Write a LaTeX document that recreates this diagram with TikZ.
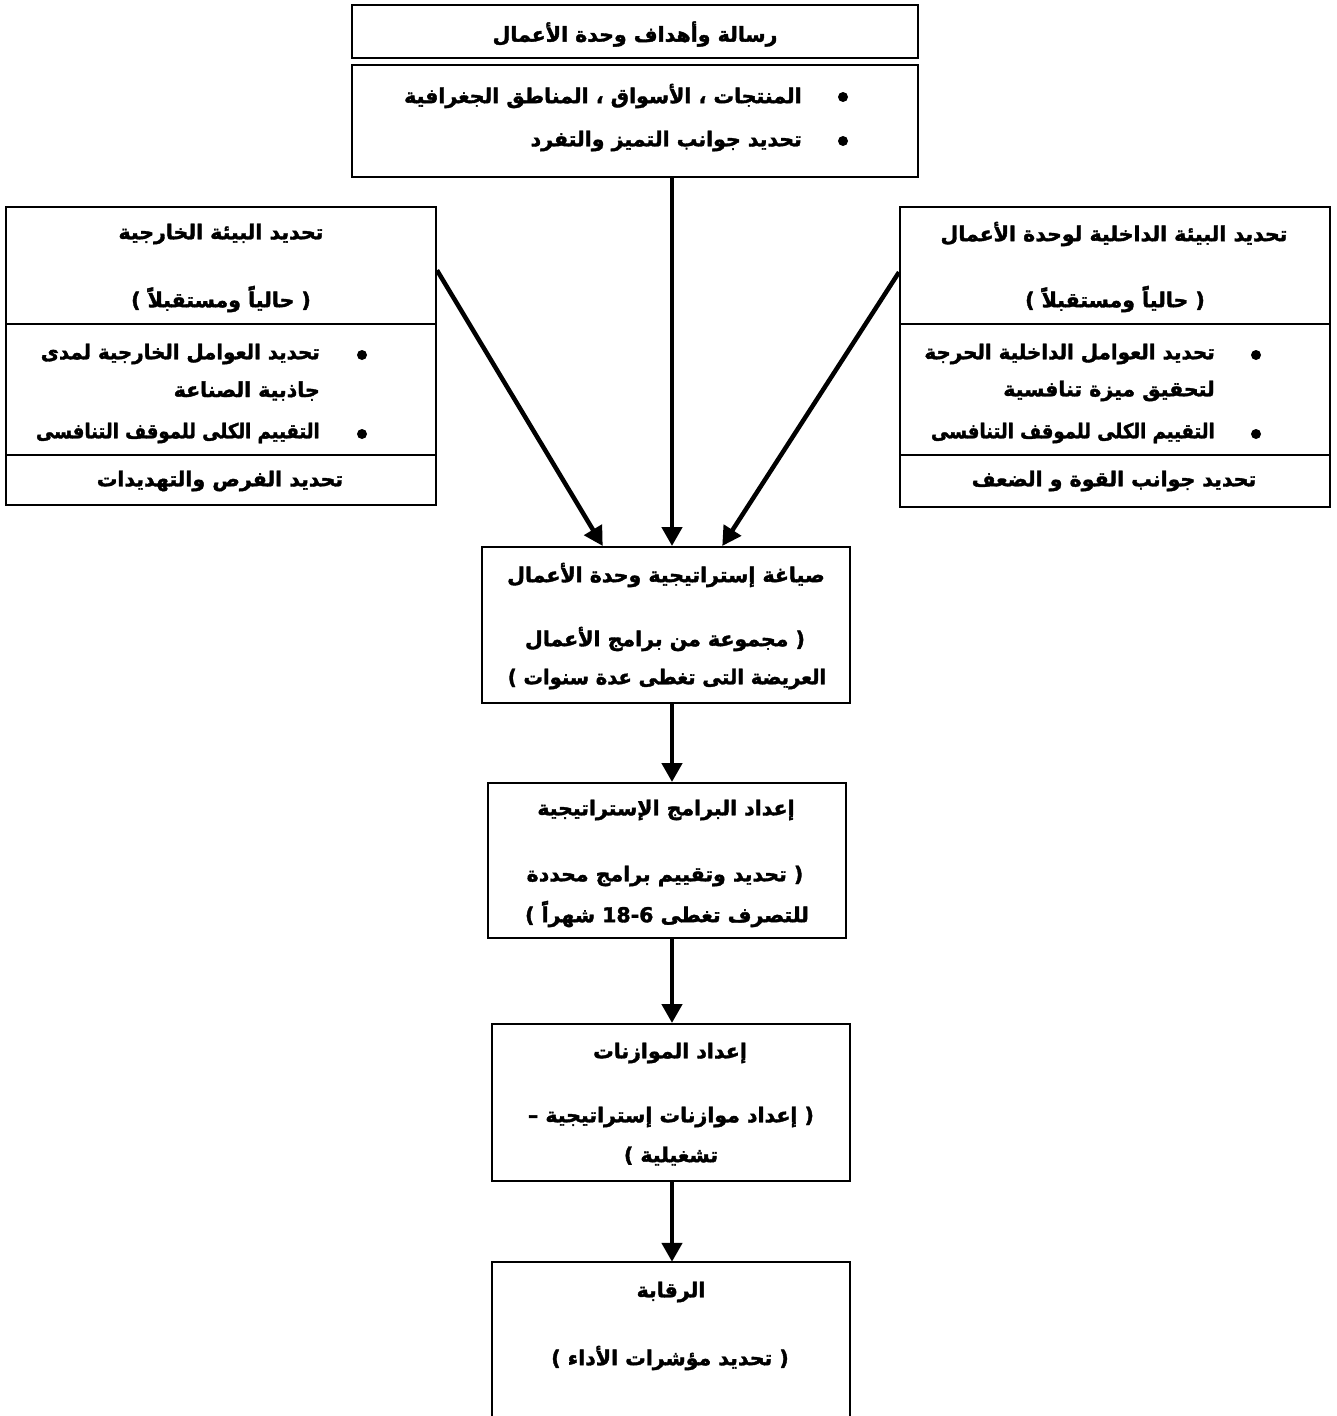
\documentclass[tikz,border=0pt]{standalone}
\usepackage{fontspec}
\usetikzlibrary{arrows.meta,calc}
\TeXXeTstate=1
\newfontfamily\arabicfont[Script=Arabic,BoldFeatures={FakeBold=1.8}]{DejaVu Sans}
\begin{document}
\begin{tikzpicture}[x=1pt,y=-1pt,
  box/.style={draw, line width=2pt, rectangle, inner sep=0pt},
  txt/.style={font=\arabicfont\bfseries\fontsize{20.5}{24}\selectfont, inner sep=0pt},
  dot/.style={circle, fill=black, inner sep=0pt, minimum size=10pt},
  arr/.style={line width=4.5pt, -{Triangle[length=19pt,width=20pt]}}]
\useasboundingbox[fill=white] (0,0) rectangle (1336,1416);

% top boxes
\node[box, minimum width=566pt, minimum height=53pt] (t1) at (635,31.5) {};
\node[box, minimum width=566pt, minimum height=112pt] (t2) at (635,121) {};
\node[txt] (t1a) at (635,34) {\beginR رسالة وأهداف وحدة الأعمال\endR};
\node[dot] (t2d1) at (843,97) {};
\node[dot] (t2d2) at (843,141) {};
\node[txt, anchor=east] (t2a) at (802,96) {\beginR المنتجات ، الأسواق ، المناطق الجغرافية\endR};
\node[txt, anchor=east] (t2b) at (802,141) {\beginR تحديد جوانب التميز والتفرد\endR};

% left box
\node[box, minimum width=430pt, minimum height=117pt] (lt) at (221,265.5) {};
\node[box, minimum width=430pt, minimum height=131pt] (lm) at (221,389.5) {};
\node[box, minimum width=430pt, minimum height=50pt] (lb) at (221,480) {};
\node[txt] (lt1) at (221,234) {\beginR تحديد البيئة الخارجية\endR};
\node[txt] (lt2) at (221,299) {\beginR(  حالياً ومستقبلاً )\endR};
\node[dot] (ld1) at (362,355) {};
\node[dot] (ld2) at (362,434) {};
\node[txt, anchor=east] (lm1) at (320,354) {\scalebox{0.965}[1]{\beginR تحديد العوامل الخارجية لمدى\endR}};
\node[txt, anchor=east] (lm2) at (320,391) {\beginR جاذبية الصناعة\endR};
\node[txt, anchor=east] (lm3) at (320,433) {\scalebox{0.88}[1]{\beginR التقييم الكلى للموقف التنافسى\endR}};
\node[txt] (lb1) at (220,481) {\beginR تحديد الفرص والتهديدات\endR};

% right box
\node[box, minimum width=430pt, minimum height=117pt] (rt) at (1115,265.5) {};
\node[box, minimum width=430pt, minimum height=131pt] (rm) at (1115,389.5) {};
\node[box, minimum width=430pt, minimum height=52pt] (rb) at (1115,481) {};
\node[txt] (rt1) at (1114,234) {\beginR تحديد البيئة الداخلية لوحدة الأعمال\endR};
\node[txt] (rt2) at (1115,299) {\beginR(  حالياً ومستقبلاً )\endR};
\node[dot] (rd1) at (1256,355) {};
\node[dot] (rd2) at (1256,434) {};
\node[txt, anchor=east] (rm1) at (1215,354) {\scalebox{0.97}[1]{\beginR تحديد العوامل الداخلية الحرجة\endR}};
\node[txt, anchor=east] (rm2) at (1215,391) {\beginR لتحقيق ميزة تنافسية\endR};
\node[txt, anchor=east] (rm3) at (1215,433) {\scalebox{0.88}[1]{\beginR التقييم الكلى للموقف التنافسى\endR}};
\node[txt] (rb1) at (1114,481) {\beginR تحديد جوانب القوة و الضعف\endR};

% middle chain
\node[box, minimum width=368pt, minimum height=156pt] (m1) at (666,625) {};
\node[txt] (m1a) at (666,575) {\beginR صياغة إستراتيجية وحدة الأعمال\endR};
\node[txt] (m1b) at (665,639) {\beginR( مجموعة من برامج الأعمال\endR};
\node[txt] (m1c) at (667,679) {\scalebox{0.95}[1]{\beginR العريضة التى تغطى عدة سنوات )\endR}};

\node[box, minimum width=358pt, minimum height=155pt] (m2) at (667,860.5) {};
\node[txt] (m2a) at (666,810) {\beginR إعداد البرامج الإستراتيجية\endR};
\node[txt] (m2b) at (665,876) {\beginR( تحديد وتقييم برامج محددة\endR};
\node[txt] (m2c) at (667,914) {\beginR للتصرف تغطى \beginL 18-6\endL{} شهراً )\endR};

\node[box, minimum width=358pt, minimum height=157pt] (m3) at (671,1102.5) {};
\node[txt] (m3a) at (670,1053) {\beginR إعداد الموازنات\endR};
\node[txt] (m3b) at (671,1117) {\beginR( إعداد موازنات إستراتيجية –\endR};
\node[txt] (m3c) at (671,1156) {\beginR تشغيلية )\endR};

\node[minimum width=358pt, minimum height=168pt, inner sep=0pt] (m4) at (671,1346) {};
\draw[line width=2pt] (m4.south west) -- (m4.north west) -- (m4.north east) -- (m4.south east);
\node[txt] (m4a) at (671,1292) {\beginR الرقابة\endR};
\node[txt] (m4b) at (670,1358) {\beginR( تحديد مؤشرات الأداء )\endR};

% connectors
\coordinate (ax) at (672,0);
\coordinate (lsrc) at ($(lt.north east)!0.54!(lt.south east)$);
\coordinate (rsrc) at ($(rt.north west)!0.556!(rt.south west)$);
\coordinate (m1l) at ($(m1.north west)!0.329!(m1.north east)$);
\coordinate (m1r) at ($(m1.north west)!0.652!(m1.north east)$);
\draw[arr] (t2.south -| ax) -- (m1.north -| ax);
\draw[arr] (lsrc) -- (m1l);
\draw[arr] (rsrc) -- (m1r);
\draw[arr] (m1.south -| ax) -- (m2.north -| ax);
\draw[arr] (m2.south -| ax) -- (m3.north -| ax);
\draw[arr] (m3.south -| ax) -- (m4.north -| ax);
\end{tikzpicture}
\end{document}
